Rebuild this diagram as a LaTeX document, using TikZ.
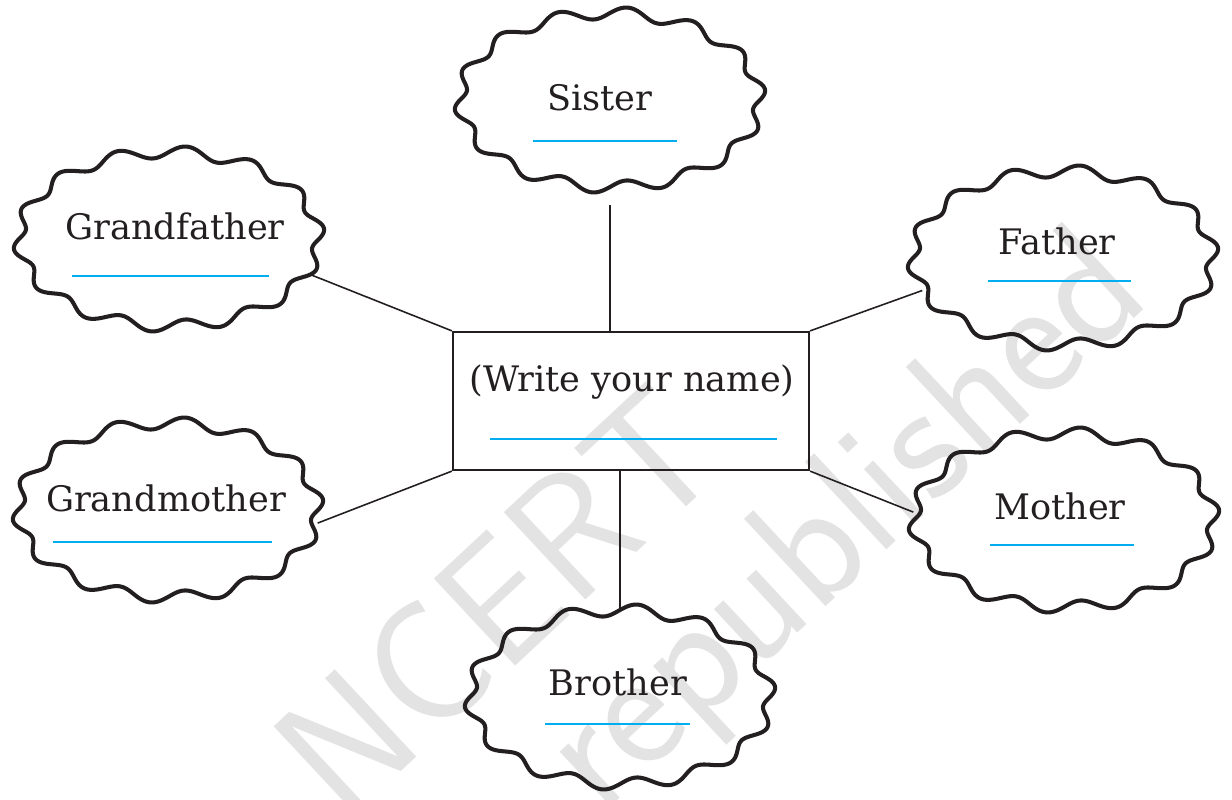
\documentclass[tikz,border=0pt]{standalone}
\usepackage{tikz}
\usepackage{fontspec}
\setmainfont{DejaVu Serif}
\usetikzlibrary{shapes.geometric}
\definecolor{blankblue}{RGB}{0,174,239}
\definecolor{inkgray}{RGB}{35,31,32}
\tikzset{
  member/.style={ellipse, inner sep=0pt, minimum width=6.04cm, minimum height=3.52cm},
  wavy/.style={draw=inkgray, line width=2.3pt, line join=round},
  namebox/.style={rectangle, draw=inkgray, line width=1.3pt, inner sep=0pt,
    minimum width=7.12cm, minimum height=2.76cm},
  relname/.style={anchor=base, inner sep=0pt, text=inkgray,
    font=\fontsize{20}{24}\selectfont},
  writeline/.style={draw=blankblue, line width=1.3pt},
  link/.style={draw=inkgray, line width=0.9pt},
  stamp/.style={inner sep=0pt, text=black!11, rotate=43,
    font=\sffamily\fontsize{98}{118}\selectfont}
}

\begin{document}
\begin{tikzpicture}[x=0.02cm, y=0.02cm]
    \clip (0,0) rectangle (1232,799);
    % faint stamp behind the chart
    \node[stamp] (stampa) at (498,198) {NCERT};
    \node[stamp] (stampb) at (848,272) {republished};

    % the child in the middle
    \node[namebox] (me) at (631,398) {};
    \node[relname] (me-t) at (632,407) {(Write your name)};
    \draw[writeline] (490,360) -- (777,360);

    % relatives
    \node[member] (sister) at (610,699) {};
    \node[relname] (sister-t) at (600,688) {Sister};
    \draw[writeline] (533,658) -- (677,658);

    \node[member] (grandpa) at (169,560) {};
    \node[relname] (grandpa-t) at (175,559) {Grandfather};
    \draw[writeline] (72,523) -- (269,523);

    \node[member] (father) at (1063,541) {};
    \node[relname] (father-t) at (1057,544) {Father};
    \draw[writeline] (988,518) -- (1131,518);

    \node[member] (grandma) at (168,289) {};
    \node[relname] (grandma-t) at (166,287) {Grandmother};
    \draw[writeline] (53,257) -- (272,257);

    \node[member] (mother) at (1064,279) {};
    \node[relname] (mother-t) at (1060,279) {Mother};
    \draw[writeline] (990,254) -- (1134,254);

    \node[member] (brother) at (620,102) {};
    \node[relname] (brother-t) at (618,104) {Brother};
    \draw[writeline] (545,75) -- (690,75);

    % wavy outlines round the relatives
    \foreach \cx/\cy in {610/699, 169/560, 1063/541, 168/289, 1064/279, 620/102}
        \draw[wavy] plot[domain=0:360, samples=361]
            ({\cx + (150 + 6*sin(14*\x))*cos(\x)}, {\cy + (87 + 6*sin(14*\x))*sin(\x)}) -- cycle;

    % links to the middle box
    \draw[link, shorten <=0.34cm] (sister.south) -- (sister.south |- me.north);
    \draw[link] (grandpa.-14) -- (me.north west);
    \draw[link] (father.193) -- (me.north east);
    \draw[link] (grandma.-5) -- (me.south west);
    \draw[link] (mother.177) -- (me.south east);
    \draw[link] (me.south -| brother.north) -- (brother.north);
\end{tikzpicture}
\end{document}
